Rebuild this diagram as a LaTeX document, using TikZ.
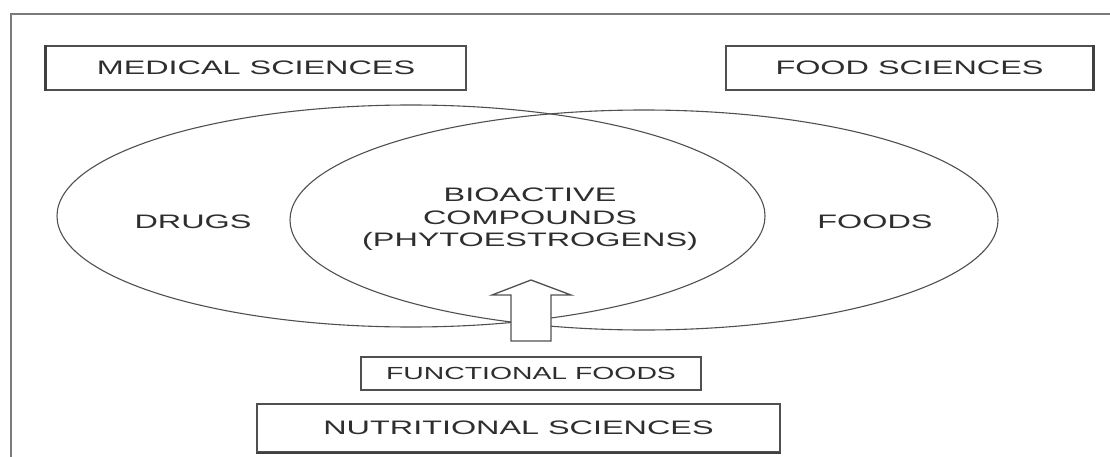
\documentclass[tikz,border=0pt]{standalone}
\usepackage{fontspec}
\usepackage{graphicx}
\setmainfont{Liberation Sans}
\usetikzlibrary{shapes.geometric}
\definecolor{inkgray}{HTML}{2E2E2E}
\definecolor{linegray}{HTML}{505050}
\definecolor{framegray}{HTML}{7A7A7A}
\newcommand{\wtext}[1]{\scalebox{1.66}[1]{#1}}
\newcommand{\ftext}[1]{\scalebox{1.62}[1]{#1}}
\tikzset{
  labelbox/.style={draw=linegray, line width=1.5pt, inner sep=0pt, text=inkgray,
    font=\fontsize{19.5}{22.5}\selectfont},
  settext/.style={text=inkgray, inner sep=0pt, align=center,
    font=\fontsize{19.5}{22.5}\selectfont},
  setshape/.style={draw=linegray, line width=1.1pt, ellipse, inner sep=0pt},
  blockarrow/.style={draw=linegray, line width=1.3pt, fill=white, line join=miter},
  heavyedge/.style={draw=linegray!80!black, line width=2.6pt},
}
\begin{document}
\begin{tikzpicture}[x=1pt,y=-1pt]
\useasboundingbox (0,0) rectangle (1110,457);
\fill[white] (0,0) rectangle (1110,457);
% frame (only left and top edges visible)
\draw[framegray, line width=2pt] (11,460) -- (11,14) -- (1112,14);
% top boxes
\node[labelbox, minimum width=420pt, minimum height=44pt] (medical) at (256,68) {\wtext{MEDICAL SCIENCES}};
\node[labelbox, minimum width=367pt, minimum height=44pt] (foodsci) at (909.5,68) {\wtext{FOOD SCIENCES}};
\draw[heavyedge] (medical.north west) -- (medical.south west);
\draw[heavyedge] (foodsci.north east) -- (foodsci.south east);
% sets
\node[setshape, minimum width=708pt, minimum height=222pt] (drugset) at (411,216) {};
\node[setshape, minimum width=708pt, minimum height=220pt] (foodset) at (644,220) {};
% labels
\node[settext] (drugs) at (193,222) {\wtext{DRUGS}};
\node[settext] (foods) at (875,222) {\wtext{FOODS}};
\node[settext] (bioactive) at (530,219.5) {\wtext{BIOACTIVE}\\\wtext{COMPOUNDS}\\\wtext{(PHYTOESTROGENS)}};
% bottom boxes
\node[labelbox, minimum width=340pt, minimum height=33pt, line width=1.3pt,
  font=\fontsize{17.5}{20}\selectfont] (functional) at (531,373.5) {\ftext{FUNCTIONAL FOODS}};
\node[labelbox, minimum width=523pt, minimum height=48pt] (nutritional) at (518.5,428) {\wtext{NUTRITIONAL SCIENCES}};
\draw[heavyedge, line width=2.2pt] (nutritional.south west) -- (nutritional.south east);
% block arrow from functional foods up into the overlap
\coordinate (arrowfoot) at (531,341);
\coordinate (arrowtip) at (531,280);
\draw[blockarrow] (511,341) -- (511,295) -- (492,295) -- (arrowtip) -- (571,295) -- (551,295) -- (551,341) -- cycle;
\end{tikzpicture}
\end{document}
